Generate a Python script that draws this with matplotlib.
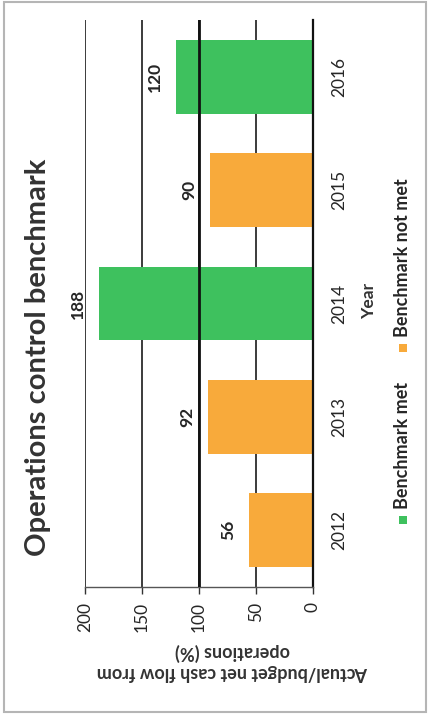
import matplotlib
matplotlib.use("Agg")
import matplotlib.pyplot as plt
from matplotlib.patches import Rectangle

plt.rcParams['font.family'] = ['Lato', 'DejaVu Sans']

# Data
years = ['2012', '2013', '2014', '2015', '2016']
values = [56, 92, 188, 90, 120]
benchmark = 100
value_ticks = [0, 50, 100, 150, 200]
status_labels = ['Benchmark met', 'Benchmark not met']
colors = {'Benchmark met': '#3ec15e', 'Benchmark not met': '#f8aa3b'}

title = 'Operations control benchmark'
value_label = 'Actual/budget net cash flow from\noperations (%)'
category_label = 'Year'

W, H = 429, 717
fig = plt.figure(figsize=(W / 100, H / 100), dpi=100)
fig.patch.set_facecolor('white')

def fx(px):
    return px / W

def fy(py):
    return 1 - py / H

txt = '#262626'

# Axes: horizontal bars, value axis reversed (0 on the right)
ax = fig.add_axes([fx(85), fy(587), fx(313) - fx(85), fy(20) - fy(587)])
status = ['Benchmark met' if v >= benchmark else 'Benchmark not met' for v in values]
pos = list(range(len(years)))
ax.barh(pos, values, height=0.65, color=[colors[s] for s in status], zorder=2)

ax.set_xlim(200, 0)
ax.set_ylim(-0.5, len(years) - 0.5)
ax.set_xticks(value_ticks)
ax.set_xticklabels([str(t) for t in value_ticks], rotation=90, fontsize=12.5, color=txt)
ax.set_yticks(pos)
ax.set_yticklabels(years, rotation=90, fontsize=12.5, color=txt, va='center')
ax.yaxis.tick_right()
ax.tick_params(axis='y', length=0, pad=13)
ax.tick_params(axis='x', length=5, width=1, color='#333333', pad=6, direction='out')

# Grid behind the bars, benchmark line over them
ax.grid(axis='x', color='#1a1a1a', linewidth=1.2, zorder=1)
ax.grid(axis='y', visible=False)
ax.set_axisbelow(True)
ax.axvline(benchmark, color='#111111', linewidth=2.0, zorder=3)

for side in ['left', 'top']:
    ax.spines[side].set_visible(False)
ax.spines['right'].set_color('#111111')
ax.spines['right'].set_linewidth(1.6)
ax.spines['bottom'].set_color('#555555')
ax.spines['bottom'].set_linewidth(1.0)

# Value labels just beyond each bar end
for p, v in zip(pos, values):
    ax.annotate(str(v), xy=(v, p), xytext=(-15, 0), textcoords='offset points',
                rotation=90, ha='center', va='center', fontsize=12.5,
                fontweight='bold', color=txt)

# Title and axis labels
fig.text(fx(38), fy(357), title, rotation=90, ha='center', va='center',
         fontsize=21, fontweight='bold', color='#333333')
fig.text(fx(369), fy(301), category_label, rotation=90, ha='center', va='center',
         fontsize=12.5, fontweight='bold', color='#333333')
fig.text(fx(232), fy(662), value_label, rotation=180, ha='center', va='center',
         multialignment='center', fontsize=13, fontweight='bold', color='#333333',
         linespacing=1.15)

# Legend drawn vertically
legend_items = [(status_labels[0], 520), (status_labels[1], 348)]
for lab, py in legend_items:
    fig.add_artist(Rectangle((fx(399), fy(py + 4)), fx(8), 8 / H,
                             transform=fig.transFigure, facecolor=colors[lab],
                             edgecolor='none'))
    fig.text(fx(403), fy(py - 11), lab, rotation=90, rotation_mode='anchor',
             ha='left', va='center', fontsize=13, fontweight='bold', color=txt)

# Outer frame
fig.add_artist(Rectangle((fx(4), fy(712)), fx(426) - fx(4), fy(2) - fy(712),
                         transform=fig.transFigure, fill=False,
                         edgecolor='#b5b5b5', linewidth=1.5))

fig.savefig('out.png', dpi=100)
